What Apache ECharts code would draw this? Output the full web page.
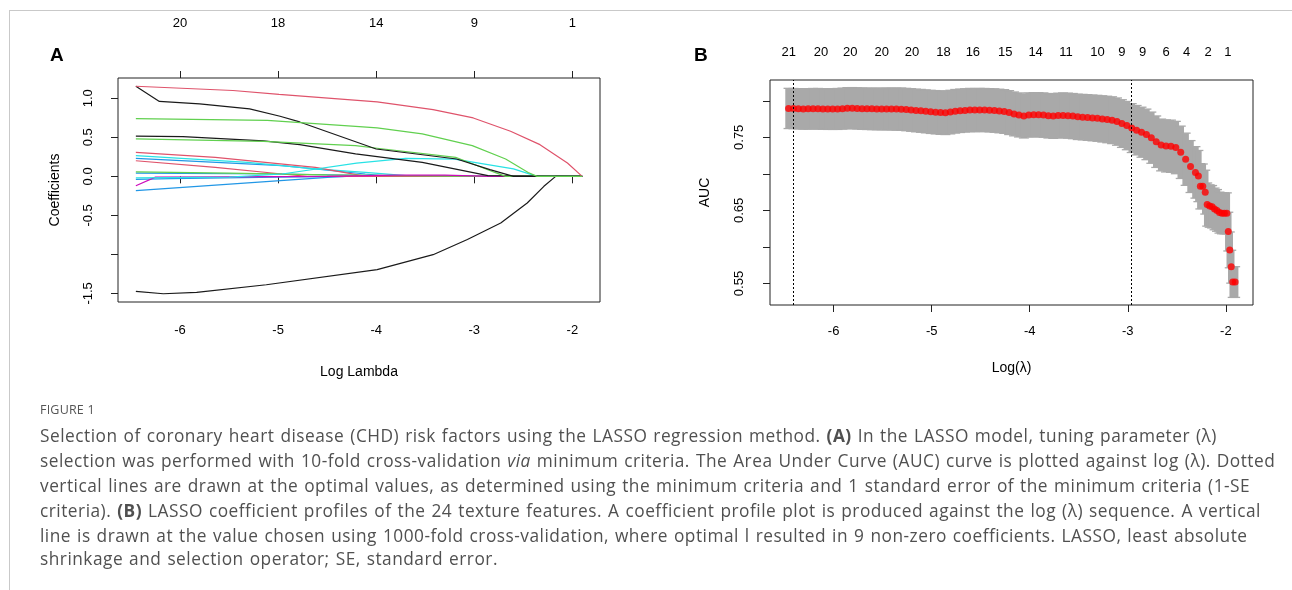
<!DOCTYPE html>
<html>
<head>
<meta charset="utf-8">
<script src="https://cdn.jsdelivr.net/npm/echarts@6/dist/echarts.min.js"></script>
<style>
  html, body { margin: 0; padding: 0; background: #fff; }
  #wrap { position: relative; width: 1292px; height: 590px; overflow: hidden; }
  #chart { position: absolute; left: 0; top: 0; width: 1292px; height: 590px; }
  #frame { position: absolute; left: 9px; top: 10px; width: 1300px; height: 600px;
           border-top: 1px solid #c9c9c9; border-left: 1px solid #c9c9c9; pointer-events: none; }
  .cap { position: absolute; left: 40px; white-space: nowrap; font-family: "Open Sans", "Noto Sans", sans-serif;
         color: #505050; font-size: 17.3px; line-height: 22px; letter-spacing: 0.5px; word-spacing: 1px; }
  .figlab { position: absolute; left: 40px; top: 401px; font-family: "Open Sans", "Noto Sans", sans-serif;
            color: #555; font-size: 12.5px; letter-spacing: 0.2px; }
</style>
</head>
<body>
<div id="wrap">
  <div id="chart"></div>
  <div id="frame"></div>
  <div class="figlab">FIGURE 1</div>
  <div class="cap" style="top:425px">Selection of coronary heart disease (CHD) risk factors using the LASSO regression method. <b>(A)</b> In the LASSO model, tuning parameter (λ)</div>
  <div class="cap" style="top:450px">selection was performed with 10-fold cross-validation <i>via</i> minimum criteria. The Area Under Curve (AUC) curve is plotted against log (λ). Dotted</div>
  <div class="cap" style="top:475px">vertical lines are drawn at the optimal values, as determined using the minimum criteria and 1 standard error of the minimum criteria (1-SE</div>
  <div class="cap" style="top:500px">criteria). <b>(B)</b> LASSO coefficient profiles of the 24 texture features. A coefficient profile plot is produced against the log (λ) sequence. A vertical</div>
  <div class="cap" style="top:525px">line is drawn at the value chosen using 1000-fold cross-validation, where optimal l resulted in 9 non-zero coefficients. LASSO, least absolute</div>
  <div class="cap" style="top:548px">shrinkage and selection operator; SE, standard error.</div>
</div>
<script>
// ---------------- Panel A: coefficient profiles ----------------
const ticksA_x = [-6, -5, -4, -3, -2];
const dfLabelsA = ['20', '18', '14', '9', '1'];
const ticksA_y = [-1.5, -1.0, -0.5, 0.0, 0.5, 1.0];
const labelsA_y = [-1.5, -0.5, 0.0, 0.5, 1.0];
const lambdaEndA = -1.90;

const coefPink1 = [[-6.45,1.154],[-5.46,1.10],[-4.99,1.05],[-3.99,0.953],[-3.42,0.855],[-3.01,0.748],[-2.63,0.577],[-2.33,0.406],[-2.05,0.171],[-1.90,0]];
const coefBlack1 = [[-6.45,1.154],[-6.21,0.96],[-5.80,0.928],[-5.29,0.864],[-4.98,0.77],[-4.78,0.697],[-4.00,0.35],[-3.18,0.222],[-2.84,0.086],[-2.60,0]];
const coefGreen1 = [[-6.45,0.74],[-5.11,0.718],[-4.21,0.64],[-3.99,0.62],[-3.53,0.544],[-3.02,0.393],[-2.68,0.222],[-2.45,0.05],[-2.36,0]];
const coefGreen2 = [[-6.45,0.479],[-5.15,0.449],[-4.21,0.393],[-3.99,0.36],[-3.19,0.244],[-2.79,0.05],[-2.68,0]];
const coefBlack2 = [[-6.45,0.515],[-5.97,0.51],[-5.15,0.455],[-4.78,0.406],[-4.21,0.287],[-3.53,0.18],[-2.86,0.01],[-2.84,0]];
const coefPink2 = [[-6.45,0.308],[-5.64,0.244],[-4.62,0.115],[-4.10,0]];
const coefPink3 = [[-6.45,0.20],[-5.64,0.115],[-4.96,0.03],[-4.70,0]];
const coefCyan1 = [[-6.45,0.265],[-5.31,0.18],[-4.62,0.095],[-4.11,0.05],[-3.60,0]];
const coefCyan2 = [[-6.45,-0.02],[-5.50,-0.01],[-4.96,0.03],[-4.20,0.17],[-3.70,0.23],[-3.20,0.22],[-2.60,0.095],[-2.36,0]];
const coefBlue1 = [[-6.45,0.23],[-4.96,0.137],[-4.11,0.03],[-3.85,0]];
const coefBlue2 = [[-6.45,-0.184],[-4.46,-0.01],[-4.30,0]];
const coefBlue3 = [[-6.45,0.04],[-5.00,0.03],[-4.00,0.01],[-3.20,0]];
const coefBlue4 = [[-6.45,-0.04],[-6.10,-0.03],[-5.00,-0.01],[-4.30,0]];
const coefMagenta1 = [[-6.45,-0.12],[-6.25,-0.01],[-4.50,0.0],[-3.80,0.015],[-3.30,0.015],[-2.84,0]];
const coefGreen3 = [[-6.45,0.056],[-5.50,0.04],[-4.50,0.02],[-3.00,0]];
const coefBlackBottom = [[-6.45,-1.474],[-6.17,-1.504],[-5.83,-1.487],[-5.12,-1.389],[-3.99,-1.196],[-3.42,-1.004],[-3.07,-0.81],[-2.73,-0.597],[-2.46,-0.341],[-2.29,-0.128],[-2.17,0]];

// ---------------- Panel B: cross-validated AUC ----------------
const logLambdaB = [-6.46,-6.41,-6.36,-6.31,-6.26,-6.21,-6.16,-6.11,-6.06,-6.01,
  -5.96,-5.91,-5.86,-5.81,-5.76,-5.71,-5.66,-5.61,-5.56,-5.51,
  -5.46,-5.41,-5.36,-5.31,-5.26,-5.21,-5.16,-5.11,-5.06,-5.01,
  -4.96,-4.91,-4.86,-4.81,-4.76,-4.71,-4.66,-4.61,-4.56,-4.51,
  -4.46,-4.41,-4.36,-4.31,-4.26,-4.21,-4.16,-4.11,-4.06,-4.01,
  -3.96,-3.91,-3.86,-3.81,-3.76,-3.71,-3.66,-3.61,-3.56,-3.51,
  -3.46,-3.41,-3.36,-3.31,-3.26,-3.21,-3.16,-3.11,-3.06,-3.01,
  -2.96,-2.91,-2.86,-2.81,-2.76,-2.71,-2.66,-2.61,-2.56,-2.51,
  -2.46,-2.41,-2.36,-2.31,
  -2.28,-2.26,-2.235,-2.21,-2.19,-2.165,-2.14,-2.115,-2.09,-2.065,-2.04,-2.015,-1.99,-1.975,-1.96,-1.945,-1.93,-1.905];
const aucMean = [0.7895,0.7893,0.7890,0.7888,0.7889,0.7891,0.7890,0.7888,0.7887,0.7887,
  0.7888,0.7892,0.7898,0.7899,0.7895,0.7892,0.7890,0.7889,0.7888,0.7887,
  0.7888,0.7887,0.7886,0.7885,0.7880,0.7874,0.7867,0.7862,0.7855,0.7848,
  0.7843,0.7838,0.7836,0.7845,0.7856,0.7863,0.7868,0.7873,0.7872,0.7874,
  0.7873,0.7870,0.7866,0.7860,0.7853,0.7838,0.7820,0.7806,0.7792,0.7806,
  0.7809,0.7808,0.7804,0.7795,0.7791,0.7798,0.7800,0.7796,0.7790,0.7780,
  0.7776,0.7771,0.7765,0.7760,0.7752,0.7744,0.7734,0.7715,0.7688,0.7660,
  0.7626,0.7597,0.7570,0.7540,0.7495,0.7440,0.7395,0.7382,0.7378,0.7360,
  0.7295,0.7200,0.7100,0.7020,
  0.697,0.683,0.683,0.675,0.658,0.656,0.655,0.652,0.650,0.647,0.646,0.646,0.646,0.621,0.596,0.573,0.552,0.552];
const aucSE = [0.0275,0.0275,0.0276,0.0276,0.0277,0.0277,0.0278,0.0278,0.0279,0.0279,
  0.0280,0.0280,0.0281,0.0281,0.0282,0.0283,0.0283,0.0284,0.0285,0.0285,
  0.0286,0.0287,0.0288,0.0289,0.0290,0.0291,0.0292,0.0293,0.0294,0.0295,
  0.0296,0.0297,0.0298,0.0298,0.0298,0.0297,0.0296,0.0296,0.0295,0.0295,
  0.0295,0.0296,0.0297,0.0298,0.0299,0.0300,0.0300,0.0301,0.0301,0.0302,
  0.0302,0.0303,0.0303,0.0304,0.0305,0.0306,0.0307,0.0308,0.0309,0.0310,
  0.0311,0.0312,0.0313,0.0314,0.0316,0.0318,0.0320,0.0323,0.0326,0.0330,
  0.0334,0.0338,0.0342,0.0346,0.0350,0.0352,0.0354,0.0356,0.0357,0.0358,
  0.0358,0.0357,0.0355,0.0352,
  0.0350,0.0310,0.0305,0.0300,0.0295,0.0290,0.0290,0.0285,0.0285,0.0280,0.0280,0.0280,0.0280,0.0265,0.0245,0.0225,0.0210,0.0210];
const lambdaMinLog = -6.41;
const lambda1seLog = -2.96;
const ticksB_x = [-6, -5, -4, -3, -2];
const ticksB_y = [0.55, 0.60, 0.65, 0.70, 0.75, 0.80];
const labelsB_y = [0.55, 0.65, 0.75];
const nzPosB = [-6.457,-6.13,-5.83,-5.51,-5.20,-4.88,-4.58,-4.25,-3.94,-3.63,-3.31,-3.06,-2.85,-2.61,-2.40,-2.18,-1.98];
const nzLabelsB = ['21','20','20','20','20','18','16','15','14','11','10','9','9','6','4','2','1'];

// ---------------- colours (R default palette) ----------------
const C = { black: '#1a1a1a', pink: '#DF536B', green: '#61D04F', blue: '#2297E6', cyan: '#28E2E5', magenta: '#CD0BBC' };

const FONT = '"Liberation Sans", Arial, sans-serif';
const chart = echarts.init(document.getElementById('chart'), null, { renderer: 'canvas' });

function lineSeries(data, color) {
  const d = data.slice();
  if (d[d.length - 1][0] < lambdaEndA) d.push([lambdaEndA, 0]);
  return { type: 'line', xAxisIndex: 0, yAxisIndex: 0, data: d, showSymbol: false, symbol: 'none',
           lineStyle: { color: color, width: 1.2 }, itemStyle: { color: color }, silent: true, animation: false, z: 3 };
}

const pathsA = [
  [coefBlue2, C.blue], [coefBlue4, C.blue], [coefBlue3, C.blue], [coefBlue1, C.blue],
  [coefCyan1, C.cyan], [coefPink3, C.pink], [coefPink2, C.pink], [coefGreen3, C.green],
  [coefMagenta1, C.magenta], [coefCyan2, C.cyan], [coefBlack2, C.black], [coefGreen2, C.green],
  [coefBlack1, C.black], [coefBlackBottom, C.black], [coefPink1, C.pink], [coefGreen1, C.green]
];

const nearestIdx = (arr, v) => { let b = 0; for (let i = 1; i < arr.length; i++) if (Math.abs(arr[i] - v) < Math.abs(arr[b] - v)) b = i; return b; };

const errData = logLambdaB.map((x, i) => [x, aucMean[i] - aucSE[i], aucMean[i] + aucSE[i]]);
const meanData = logLambdaB.map((x, i) => [x, aucMean[i]]);

const axisText = { color: '#000', fontFamily: FONT, fontSize: 13 };

const option = {
  animation: false,
  grid: [
    { left: 118, top: 78, width: 482, height: 224, show: true, borderColor: '#222', borderWidth: 1, backgroundColor: 'transparent' },
    { left: 770, top: 80, width: 483, height: 225, show: true, borderColor: '#222', borderWidth: 1, backgroundColor: 'transparent' }
  ],
  title: [
    { text: 'A', left: 45, top: 41, textStyle: { fontFamily: FONT, fontSize: 19, fontWeight: 'bold', color: '#000' } },
    { text: 'B', left: 689, top: 41, textStyle: { fontFamily: FONT, fontSize: 19, fontWeight: 'bold', color: '#000' } }
  ],
  xAxis: [
    { gridIndex: 0, type: 'value', position: 'bottom', min: -6.632, max: -1.718,
      axisLine: { show: false }, splitLine: { show: false },
      axisTick: { show: true, length: 7, customValues: ticksA_x, lineStyle: { color: '#222' } },
      axisLabel: Object.assign({ customValues: ticksA_x, margin: 22, formatter: v => String(Math.round(v)) }, axisText),
      name: 'Log Lambda', nameLocation: 'middle', nameGap: 63,
      nameTextStyle: { fontFamily: FONT, fontSize: 14, color: '#000' } },
    { gridIndex: 0, type: 'value', position: 'top', min: -6.632, max: -1.718,
      axisLine: { show: false }, splitLine: { show: false },
      axisTick: { show: true, length: 7, customValues: ticksA_x, lineStyle: { color: '#222' } },
      axisLabel: Object.assign({ customValues: ticksA_x, margin: 48, formatter: v => dfLabelsA[nearestIdx(ticksA_x, v)] }, axisText) },
    { gridIndex: 1, type: 'value', position: 'bottom', min: -6.649, max: -1.723,
      axisLine: { show: false }, splitLine: { show: false },
      axisTick: { show: true, length: 7, customValues: ticksB_x, lineStyle: { color: '#222' } },
      axisLabel: Object.assign({ customValues: ticksB_x, margin: 20, formatter: v => String(Math.round(v)) }, axisText),
      name: 'Log(λ)', nameLocation: 'middle', nameGap: 56,
      nameTextStyle: { fontFamily: FONT, fontSize: 14, color: '#000' } },
    { gridIndex: 1, type: 'value', position: 'top', min: -6.649, max: -1.723,
      axisLine: { show: false }, splitLine: { show: false }, axisTick: { show: false },
      axisLabel: Object.assign({ customValues: nzPosB, margin: 21, hideOverlap: false, formatter: v => nzLabelsB[nearestIdx(nzPosB, v)] }, axisText) }
  ],
  yAxis: [
    { gridIndex: 0, type: 'value', min: -1.61, max: 1.26,
      axisLine: { show: false }, splitLine: { show: false },
      axisTick: { show: true, length: 7, customValues: ticksA_y, lineStyle: { color: '#222' } },
      axisLabel: Object.assign({ customValues: labelsA_y, rotate: 90, margin: 23, formatter: v => v.toFixed(1) }, axisText),
      name: 'Coefficients', nameLocation: 'middle', nameGap: 56, nameRotate: 90,
      nameTextStyle: { fontFamily: FONT, fontSize: 14, color: '#000' } },
    { gridIndex: 1, type: 'value', min: 0.5206, max: 0.8284,
      axisLine: { show: false }, splitLine: { show: false },
      axisTick: { show: true, length: 7, customValues: ticksB_y, lineStyle: { color: '#222' } },
      axisLabel: Object.assign({ customValues: labelsB_y, rotate: 90, margin: 24, formatter: v => v.toFixed(2) }, axisText),
      name: 'AUC', nameLocation: 'middle', nameGap: 58, nameRotate: 90,
      nameTextStyle: { fontFamily: FONT, fontSize: 14, color: '#000' } }
  ],
  series: pathsA.map(p => lineSeries(p[0], p[1])).concat([
    { type: 'custom', xAxisIndex: 2, yAxisIndex: 1, data: errData, encode: { x: 0, y: [1, 2] }, silent: true, z: 2,
      renderItem: function (params, api) {
        const x = api.value(0);
        const lo = api.coord([x, api.value(1)]);
        const hi = api.coord([x, api.value(2)]);
        const st = { stroke: '#A9A9A9', lineWidth: 1.3 };
        return { type: 'group', children: [
          { type: 'line', shape: { x1: lo[0], y1: lo[1], x2: hi[0], y2: hi[1] }, style: { stroke: '#A9A9A9', lineWidth: 6.5 } },
          { type: 'line', shape: { x1: hi[0] - 5, y1: hi[1], x2: hi[0] + 5, y2: hi[1] }, style: st },
          { type: 'line', shape: { x1: lo[0] - 5, y1: lo[1], x2: lo[0] + 5, y2: lo[1] }, style: st }
        ] };
      } },
    { type: 'scatter', xAxisIndex: 2, yAxisIndex: 1, data: meanData, symbol: 'circle', symbolSize: 7,
      itemStyle: { color: '#FF0000' }, silent: true, z: 4,
      markLine: { silent: true, symbol: ['none', 'none'], label: { show: false },
        lineStyle: { color: '#000', type: [2, 2], width: 1 },
        data: [{ xAxis: lambdaMinLog }, { xAxis: lambda1seLog }] } }
  ])
};
chart.setOption(option);
</script>
</body>
</html>
